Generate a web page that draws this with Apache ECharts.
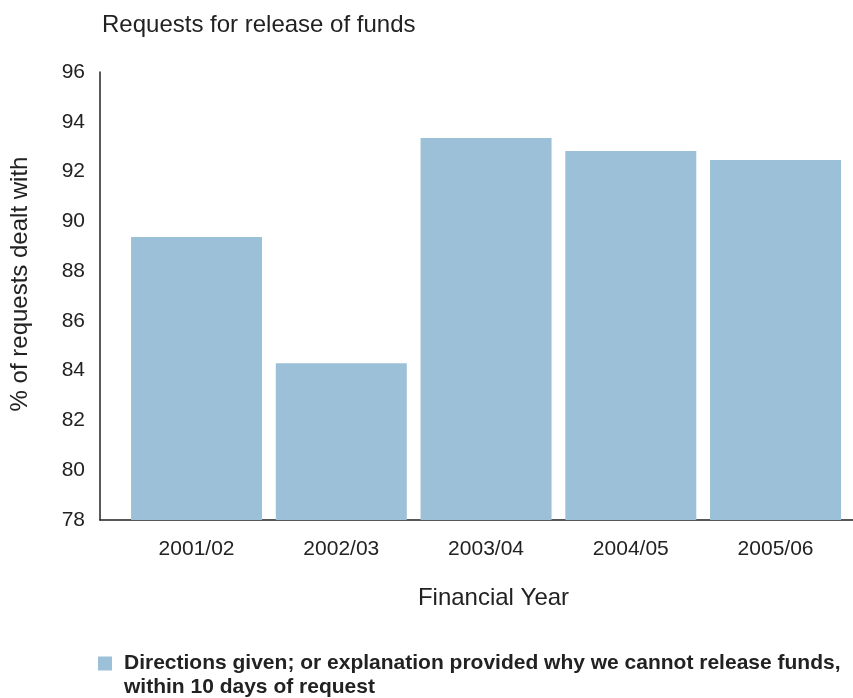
<!DOCTYPE html>
<html><head><meta charset="utf-8">
<script src="https://cdn.jsdelivr.net/npm/echarts@6/dist/echarts.min.js"></script>
<style>html,body{margin:0;padding:0;background:#fff}#c{width:853px;height:698px}</style>
</head><body><div id="c"></div>
<script>
var categories = ['2001/02', '2002/03', '2003/04', '2004/05', '2005/06'];
var values = [89.37, 84.3, 93.35, 92.83, 92.46];
var yTicks = [78, 80, 82, 84, 86, 88, 90, 92, 94, 96];
var legendLine1 = 'Directions given; or explanation provided why we cannot release funds,';
var legendLine2 = 'within 10 days of request';
var seriesName = legendLine1 + ' ' + legendLine2;

var chart = echarts.init(document.getElementById('c'), null, {renderer: 'canvas'});
var font = 'Liberation Sans, Arial, sans-serif';
chart.setOption({
  animation: false,
  title: [{
    text: 'Requests for release of funds',
    left: 97, top: 8,
    textStyle: {fontFamily: font, fontSize: 24, fontWeight: 'normal', color: '#222'}
  }, {
    text: legendLine2,
    left: 119, top: 672,
    textStyle: {fontFamily: font, fontSize: 21, fontWeight: 'bold', color: '#222'}
  }],
  legend: {
    left: 93, top: 648,
    itemWidth: 14, itemHeight: 14, itemGap: 0,
    icon: 'rect',
    data: [seriesName],
    formatter: function () { return legendLine1; },
    textStyle: {fontFamily: font, fontSize: 21, fontWeight: 'bold', color: '#222', padding: [0, 0, 0, 7]}
  },
  grid: {left: 100, right: 0, top: 72, bottom: 178, containLabel: false},
  xAxis: {
    type: 'value',
    min: -0.667, max: 4.535,
    splitLine: {show: false},
    axisTick: {show: false},
    axisLine: {show: true, onZero: false, lineStyle: {color: '#222', width: 1.5}},
    axisLabel: {
      customValues: categories.map(function (c, i) { return i; }),
      formatter: function (v) { return categories[Math.round(v)]; },
      fontFamily: font, fontSize: 21, color: '#222', margin: 19
    },
    name: 'Financial Year', nameLocation: 'middle', nameGap: 66,
    nameTextStyle: {fontFamily: font, fontSize: 24, color: '#222', padding: [0, 0, 0, 34]}
  },
  yAxis: {
    type: 'value', min: 78, max: 96, interval: 2,
    splitLine: {show: false},
    axisTick: {show: false},
    axisLine: {show: true, onZero: false, lineStyle: {color: '#222', width: 1.5}},
    axisLabel: {fontFamily: font, fontSize: 21, color: '#222', margin: 15},
    name: '% of requests dealt with', nameLocation: 'middle', nameGap: 68, nameRotate: 90,
    nameTextStyle: {fontFamily: font, fontSize: 24, color: '#222', padding: [0, 0, 0, 24]}
  },
  series: [{
    name: seriesName,
    type: 'bar',
    barWidth: 131,
    itemStyle: {color: '#9cc0d7'},
    data: values.map(function (v, i) { return [i, v]; })
  }]
});
</script></body></html>
